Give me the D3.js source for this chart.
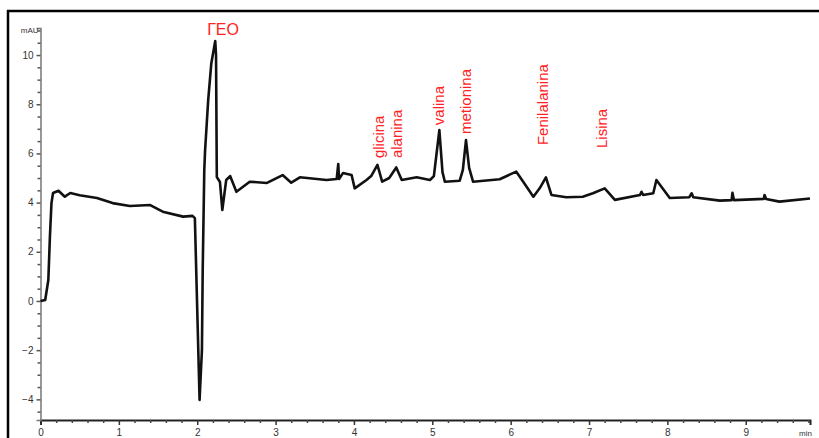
<!DOCTYPE html>
<html>
<head>
<meta charset="utf-8">
<script src="https://cdn.jsdelivr.net/npm/d3@7"></script>
<style>
  body { margin: 0; background: #fff; }
  svg { display: block; font-family: "Liberation Sans", Arial, sans-serif; }
</style>
</head>
<body>
<script>
// chromatogram trace (min, mAU)
var times = [0, 0.06, 0.10, 0.12, 0.14, 0.16, 0.23, 0.31, 0.38, 0.50, 0.72, 0.92, 1.14, 1.40, 1.56, 1.82, 1.94, 1.97,
  2.03, 2.06, 2.07, 2.09, 2.10, 2.14, 2.18, 2.23, 2.24, 2.25, 2.29, 2.32, 2.37, 2.42, 2.50, 2.67, 2.89, 3.09, 3.20, 3.31,
  3.65, 3.78, 3.80, 3.81, 3.86, 3.97, 4.01, 4.16, 4.22, 4.30, 4.36, 4.45, 4.54, 4.61, 4.80, 4.97, 5.02, 5.09, 5.13, 5.16,
  5.35, 5.39, 5.43, 5.47, 5.52, 5.86, 6.07, 6.16, 6.29, 6.37, 6.45, 6.52, 6.71, 6.92, 7.05, 7.20, 7.33, 7.65, 7.67, 7.69,
  7.82, 7.86, 8.03, 8.28, 8.31, 8.33, 8.67, 8.82, 8.83, 8.85, 9.23, 9.24, 9.26, 9.43, 9.82];
var values = [0, 0.04, 0.85, 2.60, 3.98, 4.39, 4.48, 4.24, 4.39, 4.30, 4.19, 3.98, 3.86, 3.90, 3.63, 3.43, 3.46, 3.37,
  -4.02, -2.0, 1.26, 5.3, 6.1, 8.17, 9.67, 10.57, 10.0, 5.04, 4.84, 3.70, 4.92, 5.08, 4.44, 4.85, 4.80, 5.12, 4.81, 5.03,
  4.92, 4.96, 5.57, 4.96, 5.20, 5.12, 4.58, 4.92, 5.08, 5.53, 4.85, 5.0, 5.43, 4.92, 5.03, 4.92, 5.08, 6.95, 5.24, 4.85,
  4.89, 5.33, 6.54, 5.41, 4.85, 4.95, 5.26, 4.85, 4.24, 4.58, 5.03, 4.31, 4.22, 4.24, 4.38, 4.58, 4.11, 4.31, 4.44, 4.31,
  4.38, 4.92, 4.19, 4.22, 4.38, 4.22, 4.08, 4.10, 4.40, 4.10, 4.15, 4.31, 4.15, 4.04, 4.17];

// peak labels
var peakNames = ["glicina", "alanina", "valina", "metionina", "Fenilalanina", "Lisina"];
var peakTimes = [4.32, 4.55, 5.08, 5.43, 6.41, 7.16];
var peakLevels = [5.81, 5.81, 7.15, 6.79, 6.34, 6.22];
var solventName = "ГЕО", solventTime = 2.33, solventLevel = 10.81;

var xTicks = [0, 1, 2, 3, 4, 5, 6, 7, 8, 9];
var yTicks = [-4, -2, 0, 2, 4, 6, 8, 10];

var width = 819, height = 438;

var svg = d3.select("body").append("svg")
    .attr("width", width)
    .attr("height", height);

// frame (top and left edge)
svg.append("line").attr("x1", 7).attr("x2", width).attr("y1", 11).attr("y2", 11)
    .attr("stroke", "#000").attr("stroke-width", 2.5);
svg.append("line").attr("x1", 8).attr("x2", 8).attr("y1", 10).attr("y2", height)
    .attr("stroke", "#000").attr("stroke-width", 2.5);

var x = d3.scaleLinear().domain([0, 9.82]).range([40.5, 810]);
var y = d3.scaleLinear().domain([-4.84, 11.1]).range([420, 28]);

// minor ticks
var xMinor = d3.range(0, 9.81, 0.2).filter(function(d){ return Math.abs(d - Math.round(d)) > 0.01; });
var yMinor = d3.range(-4.5, 11.01, 0.5).filter(function(d){ return Math.abs(d / 2 - Math.round(d / 2)) > 0.01; });

var xAxis = svg.append("g")
    .attr("transform", "translate(0," + y(-4.84) + ")")
    .call(d3.axisBottom(x).tickValues(xTicks).tickSize(5).tickPadding(4).tickFormat(d3.format("d")));
xAxis.select(".domain").attr("stroke", "#222").attr("stroke-width", 2);
xAxis.selectAll(".tick line").attr("stroke", "#333").attr("stroke-width", 1.5);
xAxis.selectAll("text").attr("font-size", 10).attr("fill", "#333");
svg.append("g")
    .attr("transform", "translate(0," + y(-4.84) + ")")
    .call(d3.axisBottom(x).tickValues(xMinor).tickSize(3).tickFormat(""))
    .call(function(g){ g.select(".domain").remove(); })
    .selectAll("line").attr("stroke", "#444").attr("stroke-width", 1.5);

var yAxis = svg.append("g")
    .attr("transform", "translate(" + x(0) + ",0)")
    .call(d3.axisLeft(y).tickValues(yTicks).tickSize(4).tickPadding(3).tickFormat(d3.format("d")));
yAxis.select(".domain").attr("stroke", "#777").attr("stroke-width", 1.5);
yAxis.selectAll(".tick line").attr("stroke", "#555").attr("stroke-width", 1.5);
yAxis.selectAll("text").attr("font-size", 10).attr("fill", "#333");
svg.append("g")
    .attr("transform", "translate(" + x(0) + ",0)")
    .call(d3.axisLeft(y).tickValues(yMinor).tickSize(3).tickFormat(""))
    .call(function(g){ g.select(".domain").remove(); })
    .selectAll("line").attr("stroke", "#555").attr("stroke-width", 1.5);

// axis units
svg.append("text").attr("x", x(0) - 2).attr("y", 33)
    .attr("text-anchor", "end").attr("font-size", 8).attr("fill", "#333").text("mAU");
svg.append("text").attr("x", 812).attr("y", 436)
    .attr("text-anchor", "end").attr("font-size", 8).attr("fill", "#333").text("min");

// trace
var line = d3.line()
    .x(function(d, i){ return x(times[i]); })
    .y(function(d){ return y(d); });
svg.append("path")
    .attr("d", line(values))
    .attr("fill", "none")
    .attr("stroke", "#111")
    .attr("stroke-width", 2.6)
    .attr("stroke-linejoin", "round");

// labels
svg.append("text")
    .attr("x", x(solventTime)).attr("y", y(solventLevel))
    .attr("text-anchor", "middle").attr("font-size", 16).attr("fill", "#f22")
    .text(solventName);
for (var i = 0; i < peakNames.length; i++) {
  var px = x(peakTimes[i]), py = y(peakLevels[i]);
  svg.append("text")
      .attr("transform", "translate(" + px + "," + py + ") rotate(-90)")
      .attr("dy", "0.35em")
      .attr("font-size", 15).attr("fill", "#f22")
      .text(peakNames[i]);
}
</script>
</body>
</html>
